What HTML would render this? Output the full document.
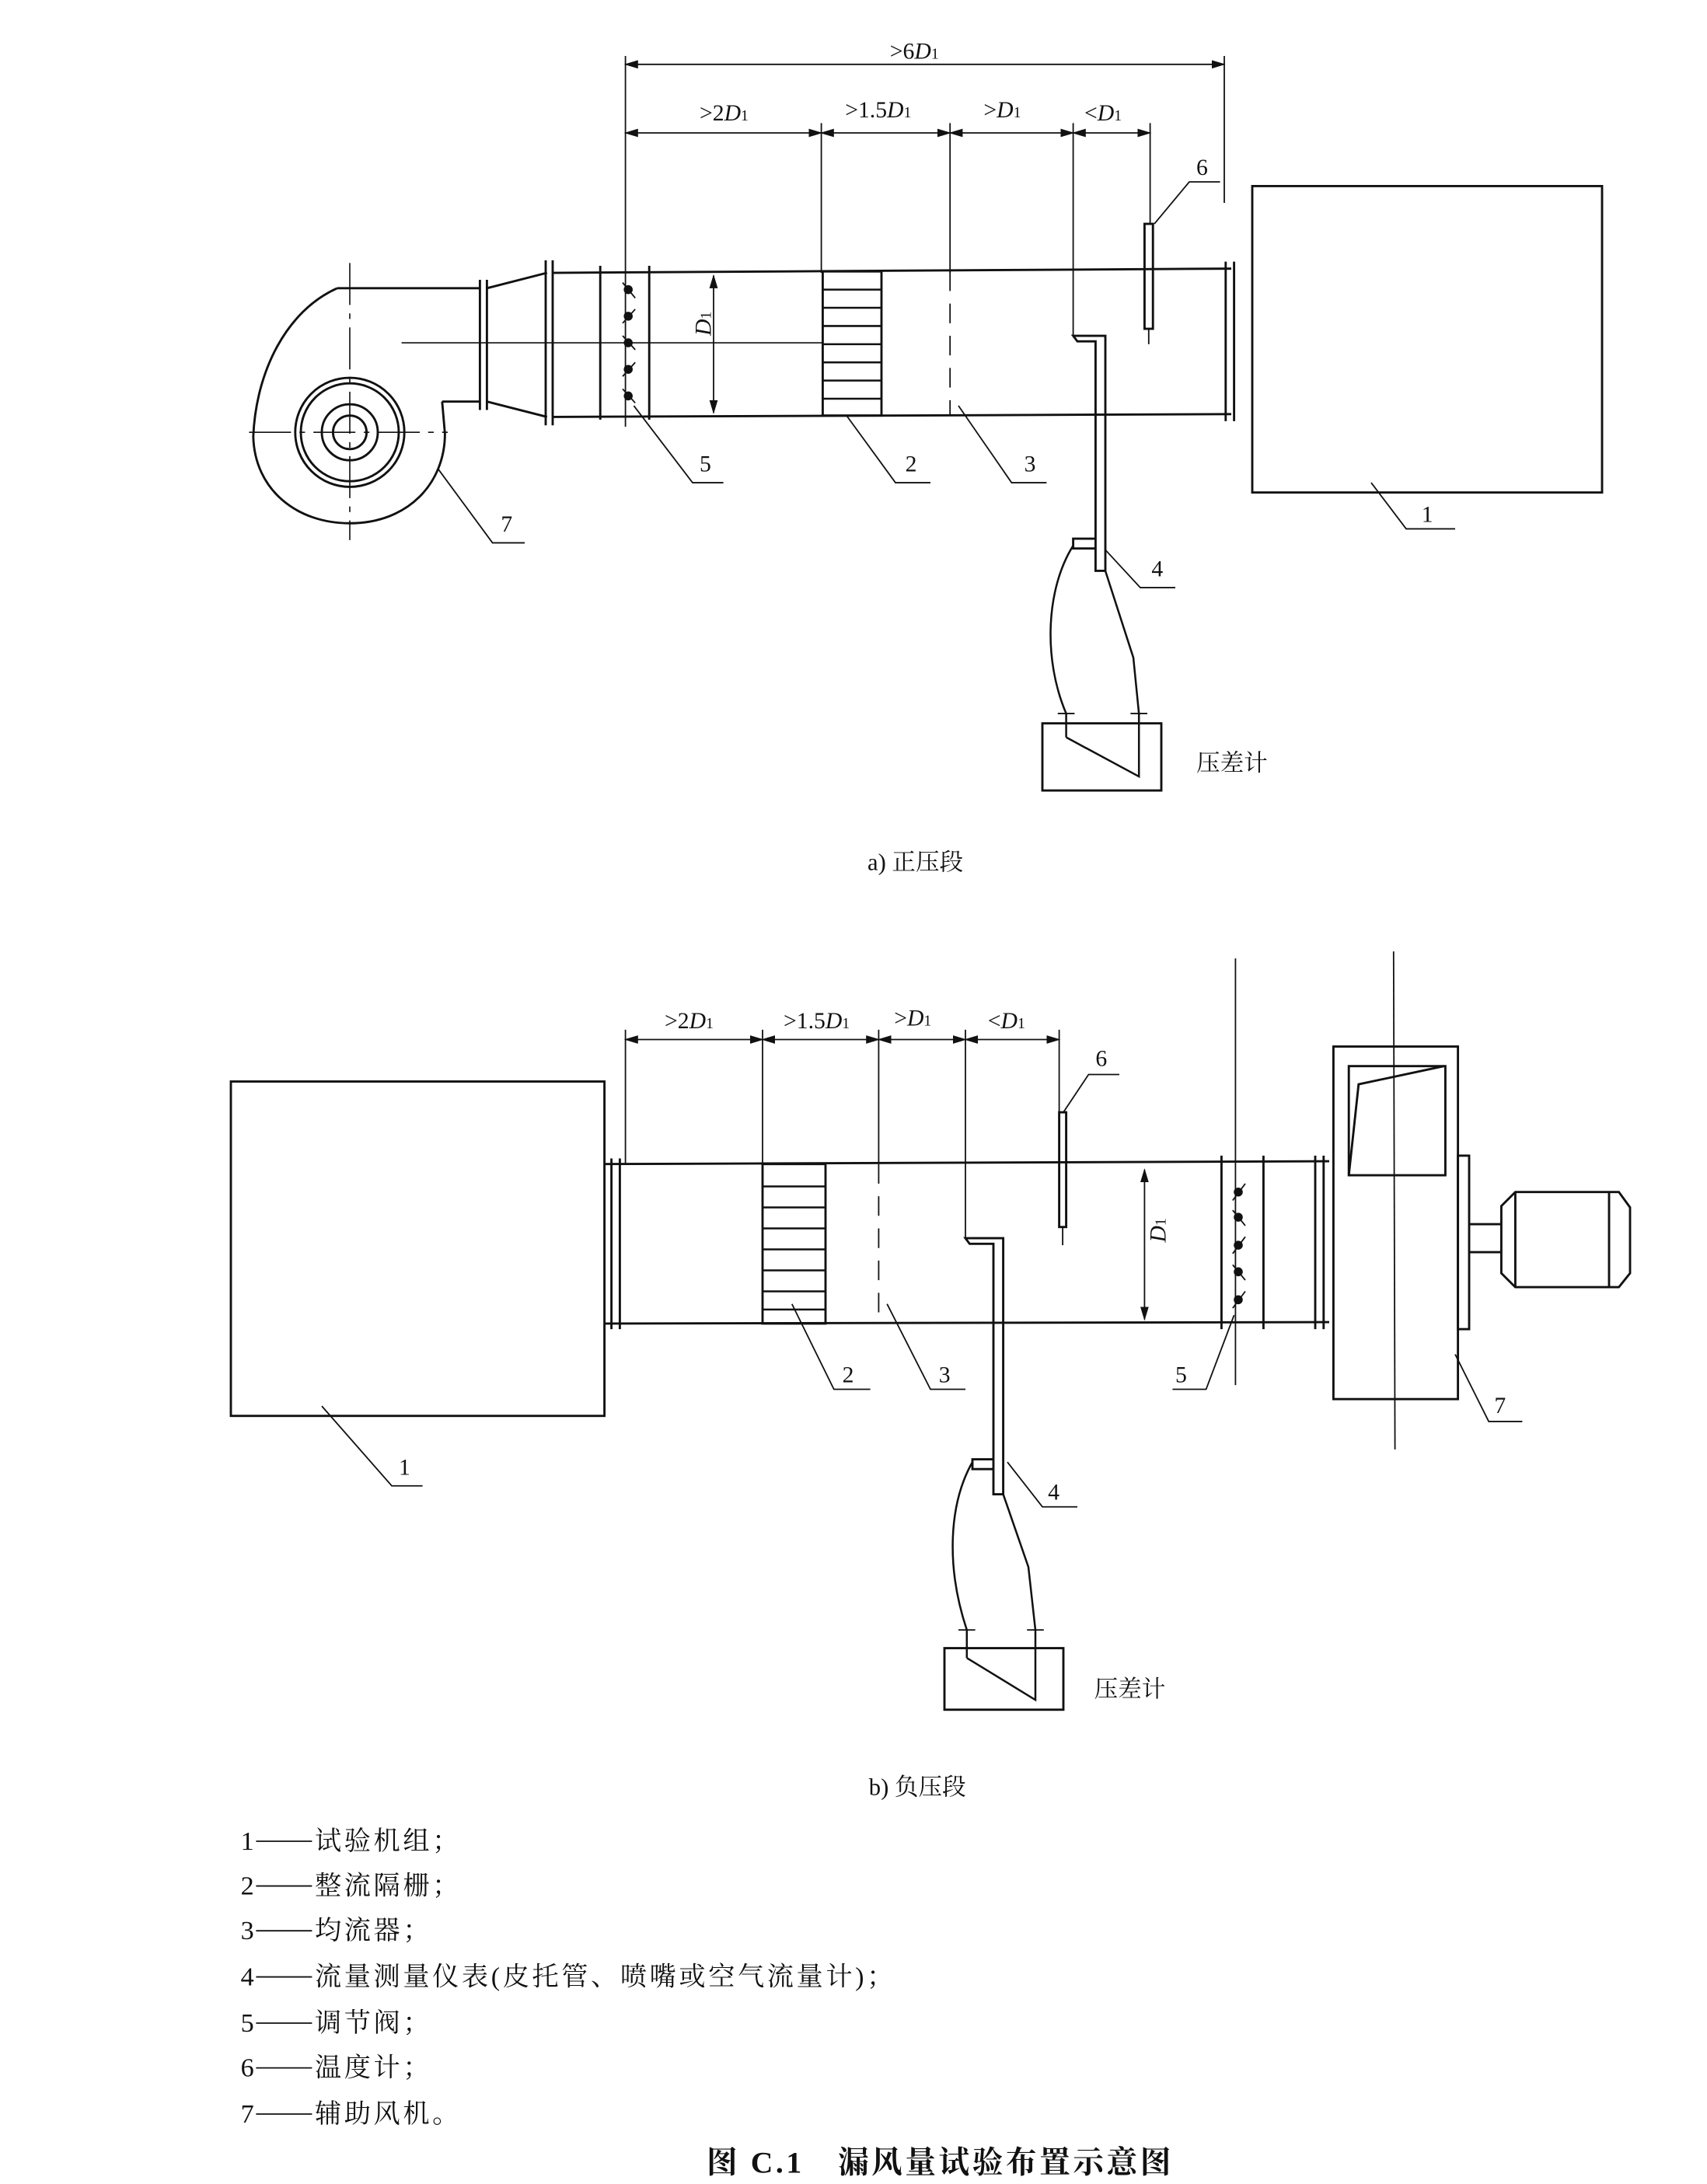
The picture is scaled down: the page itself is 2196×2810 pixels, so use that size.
<!DOCTYPE html>
<html><head><meta charset="utf-8"><style>
html,body{margin:0;padding:0;background:#fff;}
svg{display:block;}
text{font-family:"Liberation Serif","Noto Serif CJK SC",serif;fill:#111;}
.cj{font-family:"Liberation Serif","Noto Serif CJK SC","Noto Sans CJK SC",serif;}
</style></head><body>
<svg width="2196" height="2810" viewBox="0 0 1220 1561" preserveAspectRatio="none" xmlns="http://www.w3.org/2000/svg">
<defs>
<marker id="ar" markerWidth="10" markerHeight="6" refX="9" refY="3" orient="auto-start-reverse" markerUnits="userSpaceOnUse"><path d="M0,0 L10,3 L0,6 z" fill="#111"/></marker>
</defs>
<g stroke="#111" fill="none" stroke-width="1.6">
<line x1="447" y1="46" x2="875" y2="46" stroke-width="1" marker-start="url(#ar)" marker-end="url(#ar)"/>
<line x1="447" y1="95" x2="587" y2="95" stroke-width="1" marker-start="url(#ar)" marker-end="url(#ar)"/>
<line x1="587" y1="95" x2="679" y2="95" stroke-width="1" marker-start="url(#ar)" marker-end="url(#ar)"/>
<line x1="679" y1="95" x2="767" y2="95" stroke-width="1" marker-start="url(#ar)" marker-end="url(#ar)"/>
<line x1="767" y1="95" x2="822" y2="95" stroke-width="1" marker-start="url(#ar)" marker-end="url(#ar)"/>
<g stroke-width="1">
<line x1="447" y1="40" x2="447" y2="305"/>
<line x1="875" y1="40" x2="875" y2="145"/>
<line x1="587" y1="88" x2="587" y2="195"/>
<line x1="679" y1="88" x2="679" y2="195"/>
<line x1="767" y1="88" x2="767" y2="240"/>
<line x1="822" y1="88" x2="822" y2="160"/>
</g>
<path d="M241,206 L343,206 M316,287 L343,287"/>
<path d="M241,206 C205,222 183,265 181,312 C182,350 212,374 250,374 C292,374 318,345 318,310 L316,287"/>
<circle cx="250" cy="309" r="39"/><circle cx="250" cy="309" r="35"/>
<circle cx="250" cy="309" r="20"/><circle cx="250" cy="309" r="12"/>
<g stroke-width="0.9">
<line x1="250" y1="188" x2="250" y2="386" stroke-dasharray="30,6,4,6"/>
<line x1="178" y1="309" x2="320" y2="309" stroke-dasharray="30,6,4,6"/>
<line x1="287" y1="245" x2="588" y2="245"/>
</g>
<line x1="343" y1="200" x2="343" y2="293"/><line x1="348" y1="200" x2="348" y2="293"/>
<path d="M348,206 L391,195 M348,287 L391,298"/>
<line x1="390" y1="186" x2="390" y2="304"/><line x1="395" y1="186" x2="395" y2="304"/>
<line x1="429" y1="190" x2="429" y2="300"/><line x1="464" y1="190" x2="464" y2="300"/>
<line x1="395" y1="195" x2="880" y2="192"/>
<line x1="395" y1="298" x2="880" y2="296"/>
<g fill="#111" stroke="none">
<circle cx="449" cy="207" r="3.2"/><circle cx="449" cy="226" r="3.2"/><circle cx="449" cy="245" r="3.2"/><circle cx="449" cy="264" r="3.2"/><circle cx="449" cy="283" r="3.2"/>
</g>
<g stroke-width="1"><line x1="445" y1="202" x2="454" y2="213"/><line x1="445" y1="231" x2="454" y2="221"/><line x1="445" y1="240" x2="454" y2="250"/><line x1="445" y1="269" x2="454" y2="259"/><line x1="445" y1="278" x2="454" y2="288"/></g>
<line x1="510" y1="197" x2="510" y2="295" stroke-width="1" marker-start="url(#ar)" marker-end="url(#ar)"/>
<rect x="588" y="194" width="42" height="103"/>
<g stroke-width="1.4"><line x1="588" y1="207" x2="630" y2="207"/><line x1="588" y1="220" x2="630" y2="220"/><line x1="588" y1="233" x2="630" y2="233"/><line x1="588" y1="246" x2="630" y2="246"/><line x1="588" y1="259" x2="630" y2="259"/><line x1="588" y1="272" x2="630" y2="272"/><line x1="588" y1="285" x2="630" y2="285"/></g>
<line x1="679" y1="194" x2="679" y2="297" stroke-width="1" stroke-dasharray="14,9"/>
<path d="M767,240 L770,244 L783,244 L783,408 L790,408 L790,240 Z"/>
<path d="M783,385 L767,385 L767,392 L783,392"/>
<rect x="818" y="160" width="6" height="75"/>
<line x1="821" y1="235" x2="821" y2="246" stroke-width="1"/>
<line x1="876" y1="187" x2="876" y2="301"/><line x1="882" y1="187" x2="882" y2="301"/>
<rect x="895" y="133" width="250" height="219"/>
<path d="M767,390 C748,420 745,470 762,510 L762,527" stroke-width="1.4"/>
<path d="M790,408 L810,470 L814,510 L814,555 L762,527" stroke-width="1.4"/>
<line x1="756" y1="510" x2="768" y2="510" stroke-width="1"/><line x1="808" y1="510" x2="820" y2="510" stroke-width="1"/>
<rect x="745" y="517" width="85" height="48"/>
<g stroke-width="1">
<path d="M453,290 L495,345 L517,345"/>
<path d="M605,297 L640,345 L665,345"/>
<path d="M685,290 L723,345 L748,345"/>
<path d="M313,335 L352,388 L375,388"/>
<path d="M790,393 L815,420 L840,420"/>
<path d="M980,345 L1005,378 L1040,378"/>
<path d="M825,160 L850,130 L872,130"/>
</g>

<line x1="447" y1="743" x2="545" y2="743" stroke-width="1" marker-start="url(#ar)" marker-end="url(#ar)"/>
<line x1="545" y1="743" x2="628" y2="743" stroke-width="1" marker-start="url(#ar)" marker-end="url(#ar)"/>
<line x1="628" y1="743" x2="690" y2="743" stroke-width="1" marker-start="url(#ar)" marker-end="url(#ar)"/>
<line x1="690" y1="743" x2="757" y2="743" stroke-width="1" marker-start="url(#ar)" marker-end="url(#ar)"/>
<g stroke-width="1">
<line x1="447" y1="736" x2="447" y2="832"/>
<line x1="545" y1="736" x2="545" y2="832"/>
<line x1="628" y1="736" x2="628" y2="832"/>
<line x1="690" y1="736" x2="690" y2="885"/>
<line x1="757" y1="736" x2="757" y2="795"/>
<line x1="883" y1="685" x2="883" y2="990"/>
<line x1="996" y1="680" x2="997" y2="1036"/>
</g>
<rect x="165" y="773" width="267" height="239"/>
<line x1="437" y1="828" x2="437" y2="950"/><line x1="443" y1="828" x2="443" y2="950"/>
<line x1="432" y1="832" x2="950" y2="830"/>
<line x1="432" y1="946" x2="950" y2="945"/>
<rect x="545" y="832" width="45" height="114"/>
<g stroke-width="1.4"><line x1="545" y1="848" x2="590" y2="848"/><line x1="545" y1="863" x2="590" y2="863"/><line x1="545" y1="878" x2="590" y2="878"/><line x1="545" y1="893" x2="590" y2="893"/><line x1="545" y1="908" x2="590" y2="908"/><line x1="545" y1="923" x2="590" y2="923"/><line x1="545" y1="936" x2="590" y2="936"/></g>
<line x1="628" y1="832" x2="628" y2="946" stroke-width="1" stroke-dasharray="14,9"/>
<path d="M690,885 L693,889 L710,889 L710,1068 L717,1068 L717,885 Z"/>
<path d="M710,1043 L695,1043 L695,1050 L710,1050"/>
<rect x="757" y="795" width="5" height="82"/>
<line x1="759.5" y1="877" x2="759.5" y2="890" stroke-width="1"/>
<line x1="818" y1="836" x2="818" y2="943" stroke-width="1" marker-start="url(#ar)" marker-end="url(#ar)"/>
<line x1="873" y1="826" x2="873" y2="950"/><line x1="903" y1="826" x2="903" y2="950"/>
<g fill="#111" stroke="none">
<circle cx="885" cy="852" r="3.2"/><circle cx="885" cy="870" r="3.2"/><circle cx="885" cy="890" r="3.2"/><circle cx="885" cy="909" r="3.2"/><circle cx="885" cy="929" r="3.2"/>
</g>
<g stroke-width="1"><line x1="881" y1="858" x2="890" y2="846"/><line x1="881" y1="865" x2="890" y2="876"/><line x1="881" y1="896" x2="890" y2="884"/><line x1="881" y1="904" x2="890" y2="915"/><line x1="881" y1="935" x2="890" y2="923"/></g>
<line x1="940" y1="826" x2="940" y2="950"/><line x1="946" y1="826" x2="946" y2="950"/>
<rect x="953" y="748" width="89" height="252"/>
<rect x="964" y="762" width="69" height="78"/>
<path d="M964,840 L971,775 L1032,762"/>
<rect x="1042" y="826" width="8" height="124"/>
<path d="M1050,875 L1073,875 M1050,895 L1073,895"/>
<path d="M1083,852 L1157,852 L1165,863 L1165,910 L1157,920 L1083,920 L1073,910 L1073,862 Z"/>
<line x1="1083" y1="852" x2="1083" y2="920"/><line x1="1150" y1="852" x2="1150" y2="920"/>
<path d="M695,1045 C678,1075 676,1120 691,1165 L691,1185" stroke-width="1.4"/>
<path d="M717,1068 L735,1120 L740,1165 L740,1215 L691,1185" stroke-width="1.4"/>
<line x1="685" y1="1165" x2="697" y2="1165" stroke-width="1"/><line x1="734" y1="1165" x2="746" y2="1165" stroke-width="1"/>
<rect x="675" y="1178" width="85" height="44"/>
<g stroke-width="1">
<path d="M566,932 L596,993 L622,993"/>
<path d="M634,932 L665,993 L690,993"/>
<path d="M882,940 L862,993 L838,993"/>
<path d="M1040,968 L1064,1016 L1088,1016"/>
<path d="M230,1005 L280,1062 L302,1062"/>
<path d="M720,1045 L745,1077 L770,1077"/>
<path d="M760,795 L778,768 L800,768"/>
</g>
<g stroke-width="1">
<line x1="183" y1="1316" x2="223" y2="1316"/>
<line x1="183" y1="1348" x2="223" y2="1348"/>
<line x1="183" y1="1380" x2="223" y2="1380"/>
<line x1="183" y1="1413" x2="223" y2="1413"/>
<line x1="183" y1="1446" x2="223" y2="1446"/>
<line x1="183" y1="1478" x2="223" y2="1478"/>
<line x1="183" y1="1511" x2="223" y2="1511"/>
</g>
</g>

<g font-size="16.5">
<text x="636" y="42">&gt;6<tspan font-style="italic">D</tspan><tspan font-size="11">1</tspan></text>
<text x="500" y="86">&gt;2<tspan font-style="italic">D</tspan><tspan font-size="11">1</tspan></text>
<text x="604" y="84">&gt;1.5<tspan font-style="italic">D</tspan><tspan font-size="11">1</tspan></text>
<text x="703" y="84">&gt;<tspan font-style="italic">D</tspan><tspan font-size="11">1</tspan></text>
<text x="775" y="86">&lt;<tspan font-style="italic">D</tspan><tspan font-size="11">1</tspan></text>
<text x="500" y="248" transform="rotate(-90 500 240)"><tspan font-style="italic">D</tspan><tspan font-size="11">1</tspan></text>
<text x="500" y="337">5</text><text x="647" y="337">2</text><text x="732" y="337">3</text>
<text x="358" y="380">7</text><text x="823" y="412">4</text><text x="1016" y="373">1</text><text x="855" y="125">6</text>
<text x="475" y="735">&gt;2<tspan font-style="italic">D</tspan><tspan font-size="11">1</tspan></text>
<text x="560" y="735">&gt;1.5<tspan font-style="italic">D</tspan><tspan font-size="11">1</tspan></text>
<text x="639" y="733">&gt;<tspan font-style="italic">D</tspan><tspan font-size="11">1</tspan></text>
<text x="706" y="735">&lt;<tspan font-style="italic">D</tspan><tspan font-size="11">1</tspan></text>
<text x="826" y="895" transform="rotate(-90 826 888)"><tspan font-style="italic">D</tspan><tspan font-size="11">1</tspan></text>
<text x="602" y="988">2</text><text x="671" y="988">3</text><text x="840" y="988">5</text>
<text x="1068" y="1010">7</text><text x="285" y="1054">1</text><text x="749" y="1072">4</text><text x="783" y="762">6</text>
</g>
<g class="cj" font-size="17">
<text x="855" y="551">压差计</text>
<text x="782" y="1213">压差计</text>
<text x="620" y="622">a) 正压段</text>
<text x="621" y="1283">b) 负压段</text>
</g>
<g class="cj" font-size="19">
<text x="172" y="1322">1</text><text x="172" y="1354">2</text><text x="172" y="1386">3</text><text x="172" y="1419">4</text><text x="172" y="1452">5</text><text x="172" y="1484">6</text><text x="172" y="1517">7</text>
</g>
<g class="cj" font-size="19" letter-spacing="2">
<text x="225" y="1322">试验机组；</text>
<text x="225" y="1354">整流隔栅；</text>
<text x="225" y="1386">均流器；</text>
<text x="225" y="1419">流量测量仪表(皮托管、喷嘴或空气流量计)；</text>
<text x="225" y="1452">调节阀；</text>
<text x="225" y="1484">温度计；</text>
<text x="225" y="1517">辅助风机。</text>
</g>
<text class="cj" x="505" y="1553" font-size="22" font-weight="bold" letter-spacing="2">图 C.1　漏风量试验布置示意图</text>
</svg>
</body></html>
